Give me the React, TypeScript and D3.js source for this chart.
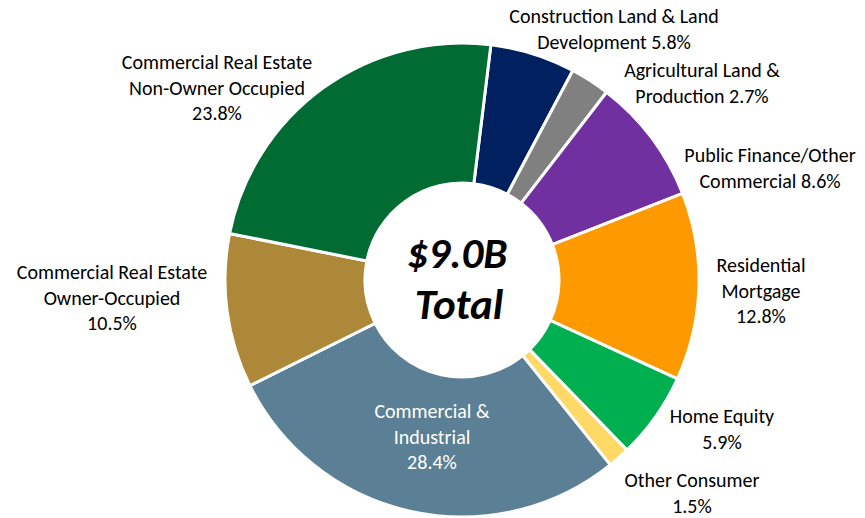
import React from 'react';
import * as d3 from 'd3';

const width = 865;
const height = 518;
const cx = 462;
const cy = 280;
const outerR = 237;
const innerR = 97;

// loan portfolio mix, clockwise from the top
const categories = [
    'Construction Land & Land Development',
    'Agricultural Land & Production',
    'Public Finance/Other Commercial',
    'Residential Mortgage',
    'Home Equity',
    'Other Consumer',
    'Commercial & Industrial',
    'Commercial Real Estate Owner-Occupied',
    'Commercial Real Estate Non-Owner Occupied',
];
const shares = [5.8, 2.7, 8.6, 12.8, 5.9, 1.5, 28.4, 10.5, 23.8];
const colors = ['#002060', '#808080', '#7030A0', '#FF9900', '#00B050', '#FFD966', '#5B7F95', '#AD8838', '#006B33'];
const labelLines = [
    ['Construction Land & Land', 'Development {v}'],
    ['Agricultural Land &', 'Production {v}'],
    ['Public Finance/Other', 'Commercial {v}'],
    ['Residential', 'Mortgage', '{v}'],
    ['Home Equity', '{v}'],
    ['Other Consumer', '{v}'],
    ['Commercial &', 'Industrial', '{v}'],
    ['Commercial Real Estate', 'Owner-Occupied', '{v}'],
    ['Commercial Real Estate', 'Non-Owner Occupied', '{v}'],
];
const totalLines = ['$9.0B', 'Total'];

// where excel dropped each label (centre x, first baseline)
const labelPos = [
    [614, 23], [702, 77], [770, 162], [761, 272], [722, 423],
    [692, 487], [432, 418], [112, 279], [217, 69],
];
const lineGap = 25.7;
const startAngle = 7 * Math.PI / 180;

const font = 'Carlito, Lato, "Liberation Sans", sans-serif';

class App extends React.Component {
    render() {
        const pie = d3.pie<number>()
            .sort(null)
            .value(d => d)
            .startAngle(startAngle)
            .endAngle(startAngle + 2 * Math.PI);
        const arcs = pie(shares);
        const arc = d3.arc<d3.PieArcDatum<number>>().innerRadius(innerR).outerRadius(outerR);
        const fmt = d3.format('.1f');

        return (
            <svg width={width} height={height} style={{ position: 'absolute', left: 0, top: 0 }}>
                <rect width={width} height={height} fill="#fff" />
                <g transform={`translate(${cx}, ${cy})`}>
                    {arcs.map((d, i) => (
                        <path key={categories[i]} d={arc(d) || ''} fill={colors[i]} stroke="#fff" strokeWidth={3} />
                    ))}
                </g>

                {labelLines.map((lines, i) => (
                    <text
                        key={i}
                        x={labelPos[i][0]}
                        y={labelPos[i][1]}
                        textAnchor="middle"
                        fontFamily={font}
                        fontSize={20}
                        fill={i === 6 ? '#fff' : '#000'}
                    >
                        {lines.map((l, k) => (
                            <tspan key={k} x={labelPos[i][0]} y={labelPos[i][1] + k * lineGap}>
                                {l.replace('{v}', fmt(shares[i]) + '%')}
                            </tspan>
                        ))}
                    </text>
                ))}

                <text textAnchor="middle" fontFamily={font} fontSize={43} fontWeight={700} fontStyle="italic">
                    <tspan x={457} y={268}>{totalLines[0]}</tspan>
                    <tspan x={459} y={319}>{totalLines[1]}</tspan>
                </text>
            </svg>
        );
    }
}

export default App;
